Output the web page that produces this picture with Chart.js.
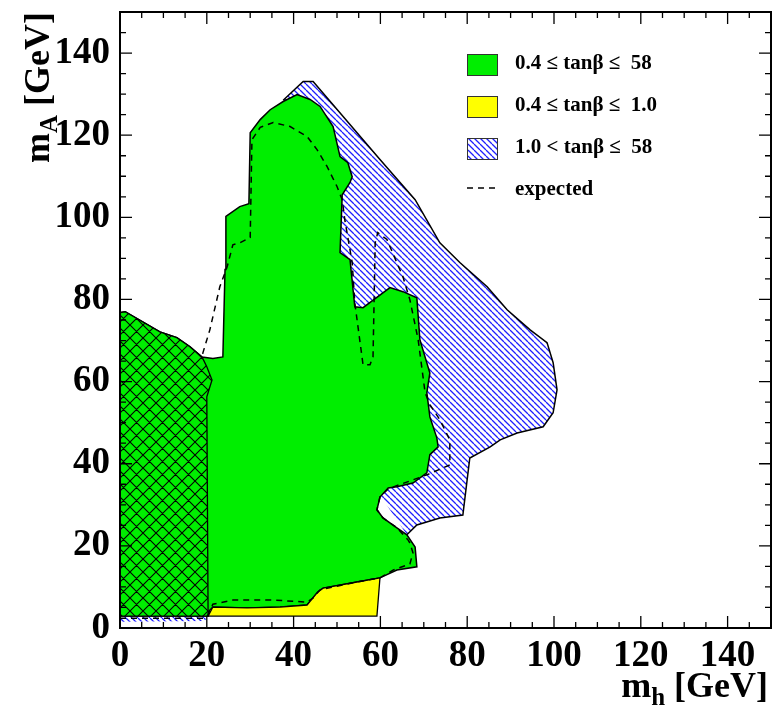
<!DOCTYPE html>
<html lang="en">
<head>
<meta charset="UTF-8">
<title>Excluded regions in the (m_h, m_A) plane</title>
<script src="https://cdn.jsdelivr.net/npm/chart.js@4.4.0/dist/chart.umd.min.js"></script>
<style>
  html, body { margin: 0; padding: 0; background: #fff; }
</style>
</head>
<body>
<canvas id="chart" width="773" height="707"></canvas>
<script>
// polygons in (m_h, m_A) GeV
const excludedAll = [[0,2.9],[0,76.8],[1.2,77.0],[9.2,72.1],[13.1,70.7],[16.1,68.5],[18.9,66.0],[21.4,65.6],[23.7,66.0],[24.2,87.3],[24.4,100.2],[27.6,102.6],[29.7,103.3],[30.0,120.6],[32.3,123.8],[34.6,126.2],[37.6,128.2],[40.8,129.9],[43.8,128.7],[46.1,127.0],[49.1,122.1],[50.7,114.8],[52.5,113.3],[53.5,109.9],[53.0,108.5],[51.2,105.5],[50.7,91.4],[53.0,89.7],[54.1,78.2],[56.0,78.0],[62.2,82.9],[65.2,81.9],[68.4,80.4],[69.1,70.2],[71.4,62.1],[70.7,57.3],[71.4,51.4],[73.0,46.3],[73.3,44.1],[71.4,42.2],[70.7,37.8],[67.5,35.3],[63.8,34.4],[61.8,34.1],[59.9,31.9],[59.2,28.8],[60.6,26.8],[63.8,24.4],[66.1,22.7],[68.0,19.7],[68.4,14.9],[63.8,14.1],[59.9,12.2],[54.6,11.2],[46.8,9.7],[45.6,8.8],[43.1,5.6],[36.9,5.1],[29.3,4.9],[21.4,5.1],[20.3,3.9],[20.3,2.9],[0,2.9]];

const crossHatched = [[0,2.9],[0,76.8],[1.2,77.0],[9.2,72.1],[13.1,70.7],[16.1,68.5],[18.9,66.0],[20.0,63.6],[21.2,60.4],[20.0,56.3],[20.3,2.9],[0,2.9]];

const excludedLowTan = [[20.3,2.9],[21.4,5.1],[29.3,4.9],[36.9,5.1],[43.1,5.6],[45.6,8.8],[46.8,9.7],[54.6,11.2],[59.9,12.2],[59.2,2.9],[20.3,2.9]];

const excludedHighTanEdge = [[37.6,128.5],[42.2,133.1],[44.5,133.1],[59.9,114.1],[68.0,104.3],[73.7,93.8],[78.3,89.0],[84.6,83.1],[89.2,77.5],[94.5,72.6],[98.4,69.5],[99.8,64.6],[100.7,58.0],[99.8,52.4],[97.5,49.0],[91.5,47.5],[87.6,45.8],[85.3,44.1],[80.6,41.4],[79.0,27.5],[73.7,26.8],[68.4,25.1],[66.1,22.7]];
// closed through the inside of the green area
const excludedHighTan = excludedHighTanEdge.concat([[55,40],[45,100],[37.6,128.5]]);
const highTanStrip = [[0,1.5],[19.5,1.7],[20.3,2.9],[0,2.9],[0,1.5]];

const expected = [[0,2.4],[19.6,2.4],[20.3,3.2],[21.4,5.8],[26.0,6.8],[35.3,6.8],[43.1,6.3],[44.5,7.3],[46.1,9.3],[54.6,11.2],[59.9,12.2],[62.9,14.1],[66.8,15.6],[67.5,18.3],[66.8,20.7],[66.4,21.4],[63.8,24.4],[60.6,26.8],[59.2,28.8],[59.9,31.9],[61.8,33.9],[70.7,37.3],[76.0,39.7],[76.0,45.8],[73.7,50.7],[71.4,54.4],[70.3,57.3],[68.7,70.2],[66.8,79.9],[65.2,85.5],[61.5,94.6],[59.4,96.3],[58.8,93.8],[58.3,66.0],[57.6,64.1],[56.0,64.1],[54.1,79.2],[53.5,89.0],[51.8,99.4],[51.2,104.3],[50.0,107.5],[47.7,112.4],[45.4,116.5],[43.1,119.7],[39.2,122.1],[35.3,123.1],[32.3,121.9],[30.4,118.9],[30.0,95.1],[27.6,93.8],[26.0,93.3],[24.7,88.0],[23.0,83.1],[20.7,72.6],[19.1,67.0],[18.9,66.0]];

const tickValues = [0, 20, 40, 60, 80, 100, 120, 140];
const legendLabels = ['0.4 \u2264 tan\u03b2 \u2264  58', '0.4 \u2264 tan\u03b2 \u2264  1.0', '1.0 < tan\u03b2 \u2264  58', 'expected'];

const GREEN = '#00ee00';
const YELLOW = '#ffff00';
const SERIF = '"Liberation Serif", "DejaVu Serif", serif';

function pts(list) { return list.map(p => ({x: p[0], y: p[1]})); }

function hatchPattern(size, color, both, bg, lw) {
  const c = document.createElement('canvas');
  c.width = size; c.height = size;
  const g = c.getContext('2d');
  if (bg) { g.fillStyle = bg; g.fillRect(0, 0, size, size); }
  g.strokeStyle = color;
  g.lineWidth = lw;
  g.beginPath();
  for (let i = -1; i <= 1; i++) {
    g.moveTo(i * size, 0); g.lineTo(i * size + size, size);
    if (both) { g.moveTo(i * size + size, 0); g.lineTo(i * size, size); }
  }
  g.stroke();
  return g.createPattern(c, 'repeat');
}

const ctx = document.getElementById('chart').getContext('2d');
const blueHatch = hatchPattern(6, '#1f1fff', false, '#ffffff', 1.3);
const crossHatch = hatchPattern(13, '#000000', true, GREEN, 1.1);

const decor = {
  id: 'decor',
  afterDatasetsDraw(chart) {
    const {ctx, chartArea: a, scales: {x, y}} = chart;
    ctx.save();
    ctx.strokeStyle = '#000';
    ctx.lineWidth = 1.3;
    ctx.beginPath();
    for (let v = 0; v <= 150; v += 5) {
      const len = v % 20 === 0 ? 12 : 6;
      const px = x.getPixelForValue(v);
      const py = y.getPixelForValue(v);
      ctx.moveTo(px, a.bottom); ctx.lineTo(px, a.bottom - len);
      ctx.moveTo(px, a.top); ctx.lineTo(px, a.top + len);
      ctx.moveTo(a.left, py); ctx.lineTo(a.left + len, py);
      ctx.moveTo(a.right, py); ctx.lineTo(a.right - len, py);
    }
    ctx.stroke();
    ctx.lineWidth = 2;
    ctx.strokeRect(a.left, a.top, a.right - a.left, a.bottom - a.top);

    // legend
    const fills = [GREEN, YELLOW, blueHatch];
    ctx.font = 'bold 21px ' + SERIF;
    ctx.textBaseline = 'middle';
    for (let i = 0; i < 4; i++) {
      const cy = 64 + i * 42;
      if (i < 3) {
        ctx.fillStyle = fills[i];
        ctx.fillRect(467, cy - 10, 30, 21);
        ctx.strokeStyle = '#333';
        ctx.lineWidth = 1;
        ctx.strokeRect(467.5, cy - 9.5, 30, 21);
      } else {
        ctx.strokeStyle = '#000';
        ctx.lineWidth = 1.5;
        ctx.setLineDash([6, 5]);
        ctx.beginPath(); ctx.moveTo(467, cy - 2); ctx.lineTo(498, cy - 2); ctx.stroke();
        ctx.setLineDash([]);
      }
      ctx.fillStyle = '#000';
      ctx.fillText(legendLabels[i], 515, cy);
    }

    // axis titles with subscripts
    const big = 'bold 36px ' + SERIF, small = 'bold 25px ' + SERIF;
    ctx.textBaseline = 'alphabetic';
    ctx.font = big; const wm = ctx.measureText('m').width; const wg = ctx.measureText(' [GeV]').width;
    ctx.font = small; const wh = ctx.measureText('h').width; const wa = ctx.measureText('A').width;
    const sx = 768 - (wm + wh + wg);
    ctx.font = big; ctx.fillText('m', sx, 697);
    ctx.font = small; ctx.fillText('h', sx + wm, 705);
    ctx.font = big; ctx.fillText(' [GeV]', sx + wm + wh, 697);

    ctx.translate(49, 163);
    ctx.rotate(-Math.PI / 2);
    ctx.font = big; ctx.fillText('m', 0, 0);
    ctx.font = small; ctx.fillText('A', wm, 8);
    ctx.font = big; ctx.fillText(' [GeV]', wm + wa, 0);
    ctx.restore();
  }
};

function axis(pos) {
  return {
    type: 'linear', position: pos, min: 0, max: 150,
    grid: { display: false, drawTicks: false },
    border: { display: false },
    afterBuildTicks: s => { s.ticks = tickValues.map(v => ({value: v})); },
    ticks: {
      color: '#000',
      padding: pos === 'left' ? 10 : 6,
      maxRotation: 0,
      autoSkip: false,
      font: { family: SERIF, weight: 'bold', size: 37 }
    },
    afterFit: s => {
      if (pos === 'left') { s.width = 120; s.paddingTop = 0; s.paddingBottom = 0; }
      else { s.height = 79; s.paddingLeft = 0; s.paddingRight = 0; }
    }
  };
}

new Chart(ctx, {
  type: 'scatter',
  data: {
    datasets: [
      { data: pts(expected), showLine: true, fill: false, borderColor: '#000', borderWidth: 1.5, borderDash: [6, 5], order: 1 },
      { data: pts(excludedLowTan), showLine: true, fill: 'shape', backgroundColor: YELLOW, borderColor: '#000', borderWidth: 1.3, order: 2 },
      { data: pts(crossHatched), showLine: true, fill: 'shape', backgroundColor: crossHatch, borderColor: '#000', borderWidth: 1.3, order: 3 },
      { data: pts(excludedAll), showLine: true, fill: 'shape', backgroundColor: GREEN, borderColor: '#000', borderWidth: 1.5, order: 4 },
      { data: pts(excludedHighTanEdge), showLine: true, fill: false, borderColor: '#000', borderWidth: 1.5, order: 5 },
      { data: pts(excludedHighTan), showLine: true, fill: 'shape', backgroundColor: blueHatch, borderWidth: 0, borderColor: 'rgba(0,0,0,0)', order: 6 },
      { data: pts(highTanStrip), showLine: true, fill: 'shape', backgroundColor: blueHatch, borderWidth: 0, borderColor: 'rgba(0,0,0,0)', order: 7 }
    ]
  },
  options: {
    responsive: false,
    animation: false,
    layout: { padding: { top: 12, right: 2, left: 0, bottom: 0 } },
    elements: { point: { radius: 0 }, line: { tension: 0 } },
    plugins: { legend: { display: false }, tooltip: { enabled: false } },
    scales: { x: axis('bottom'), y: axis('left') }
  },
  plugins: [decor]
});
</script>
</body>
</html>
